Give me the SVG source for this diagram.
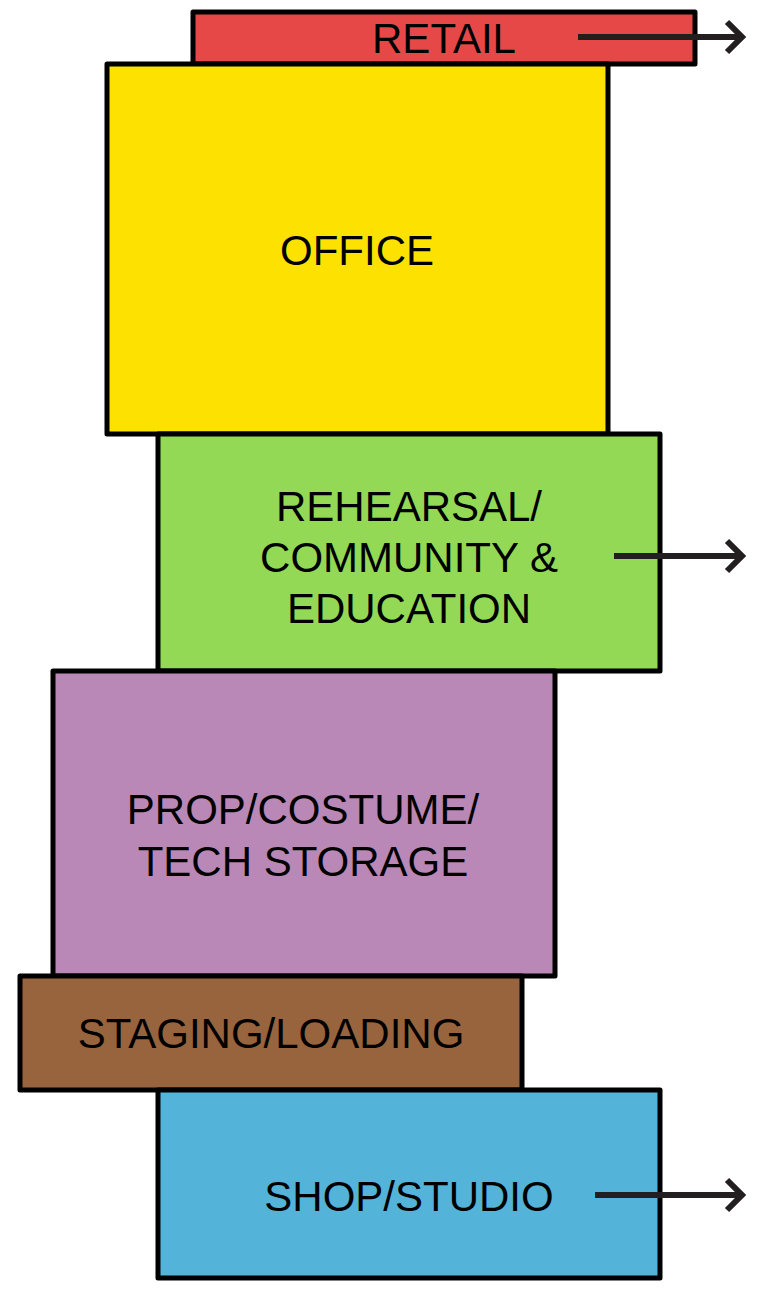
<svg xmlns="http://www.w3.org/2000/svg" width="761" height="1290" viewBox="0 0 761 1290">
<style>
.blk{stroke:#000;stroke-width:5;stroke-linejoin:round}
.lbl{font-family:"Liberation Sans",Arial,sans-serif;font-size:42px;fill:#000;text-anchor:middle}
.arr{stroke:#231f20;stroke-width:6;fill:none}
</style>
<g id="retail"><rect class="blk" x="193" y="12" width="502" height="52" fill="#e64848"/><text class="lbl" x="444" y="53">RETAIL</text></g>
<g id="office"><rect class="blk" x="107" y="64" width="501" height="370" fill="#fde100"/><text class="lbl" x="357" y="265">OFFICE</text></g>
<g id="rehearsal"><rect class="blk" x="158" y="434" width="502" height="237" fill="#93d955"/><text class="lbl" x="409" y="521">REHEARSAL/</text><text class="lbl" x="409" y="572">COMMUNITY &amp;</text><text class="lbl" x="409" y="623">EDUCATION</text></g>
<g id="storage"><rect class="blk" x="53" y="671" width="502" height="305" fill="#b988b7"/><text class="lbl" x="303" y="824">PROP/COSTUME/</text><text class="lbl" x="303" y="876">TECH STORAGE</text></g>
<g id="staging"><rect class="blk" x="20" y="976" width="502" height="114" fill="#98643d"/><text class="lbl" x="271" y="1048">STAGING/LOADING</text></g>
<g id="shop"><rect class="blk" x="158" y="1090" width="502" height="188" fill="#53b3d9"/><text class="lbl" x="409" y="1211">SHOP/STUDIO</text></g>
<g id="connectors">
<path class="arr" d="M578,37 H742 M727,22 L742,37 L727,52"/>
<path class="arr" d="M614,556 H742 M727,541 L742,556 L727,571"/>
<path class="arr" d="M595,1195 H742 M727,1180 L742,1195 L727,1210"/>
</g>
</svg>
